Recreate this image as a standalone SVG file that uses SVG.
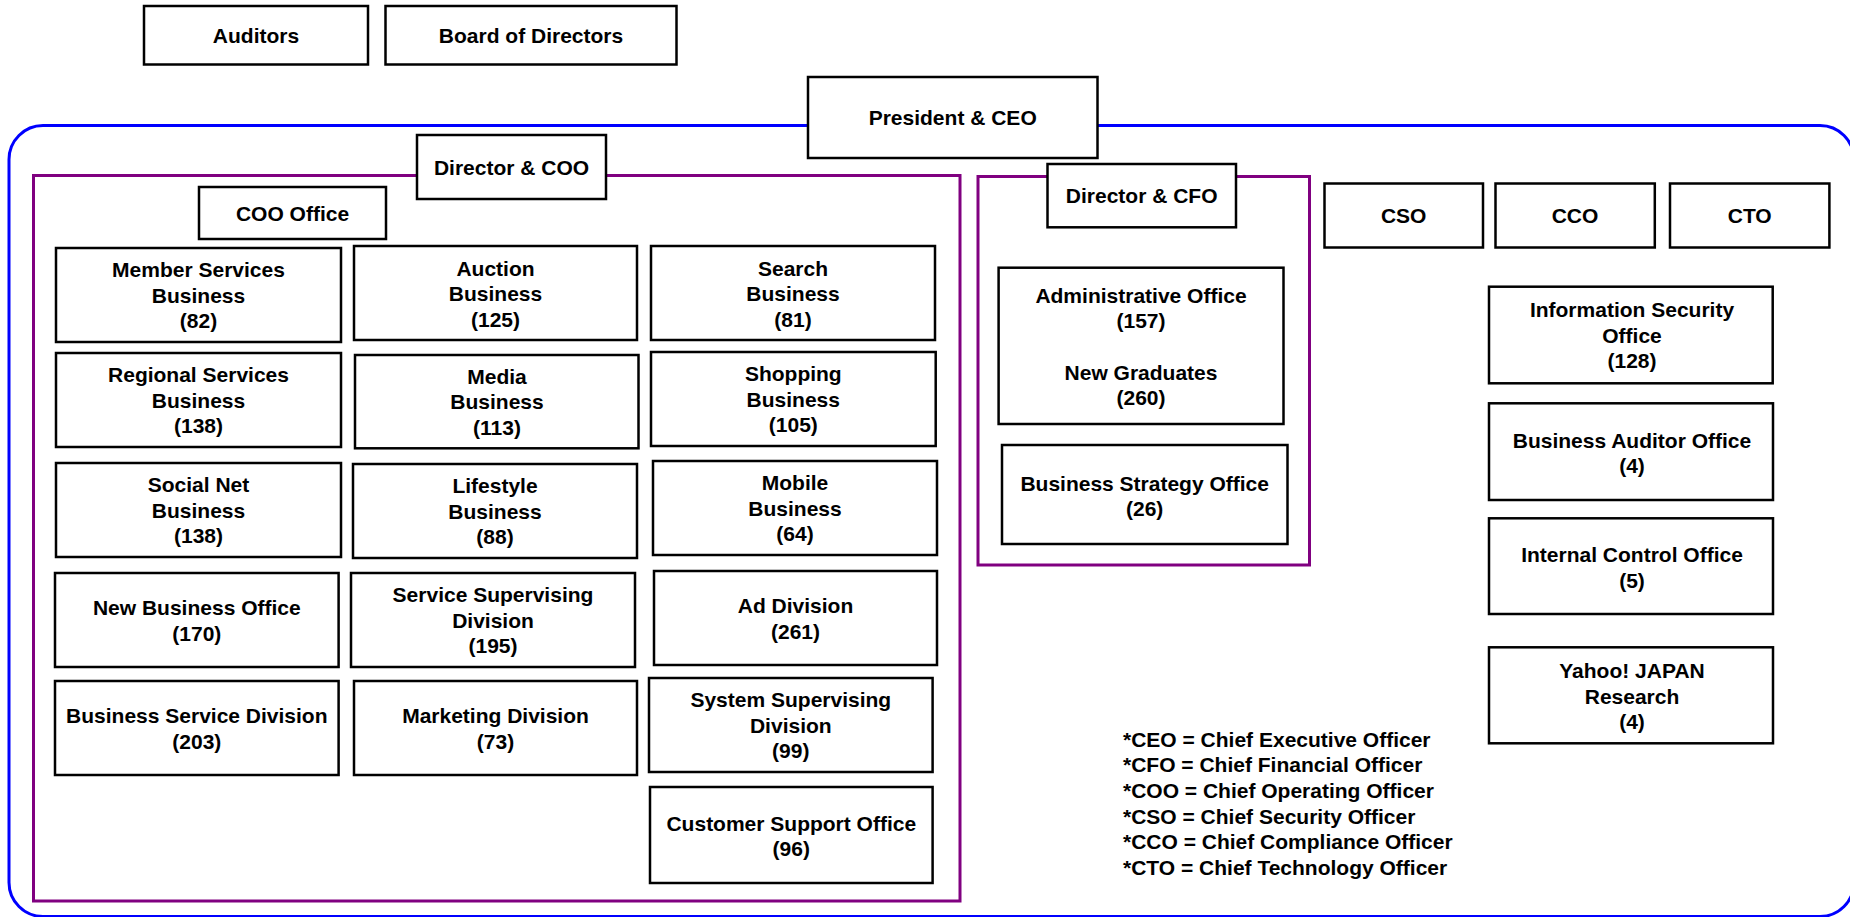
<svg xmlns="http://www.w3.org/2000/svg" width="1850" height="917" viewBox="0 0 1850 917">
<style>
.bg{fill:#ffffff}
.box{fill:#ffffff;stroke:#000000;stroke-width:2.5}
.t{font-family:"Liberation Sans",Arial,sans-serif;font-weight:bold;font-size:21px;fill:#000000;text-anchor:middle}
.lg{font-family:"Liberation Sans",Arial,sans-serif;font-weight:bold;font-size:21px;fill:#000000}
.blue{fill:none;stroke:#0000ff;stroke-width:3}
.purple{fill:none;stroke:#800080;stroke-width:3}
</style>
<rect class="bg" x="0" y="0" width="1850" height="917"/>
<g id="connectors">
  <rect class="blue" x="9" y="125.5" width="1845" height="791" rx="34" ry="34"/>
  <rect class="purple" x="33.5" y="175.5" width="926.5" height="725.5"/>
  <rect class="purple" x="978" y="176.5" width="331.5" height="388.5"/>
</g>
<g id="auditors"><rect class="box" x="144" y="6" width="224" height="58.5"/><text class="t" x="256" y="43">Auditors</text></g>
<g id="board"><rect class="box" x="385.5" y="6" width="291" height="58.5"/><text class="t" x="531" y="43">Board of Directors</text></g>
<g id="ceo"><rect class="box" x="808" y="77" width="289.5" height="81"/><text class="t" x="952.7" y="125">President &amp; CEO</text></g>
<g id="director-coo"><rect class="box" x="417" y="135" width="189" height="64"/><text class="t" x="511.5" y="174.5">Director &amp; COO</text></g>
<g id="coo-office"><rect class="box" x="199" y="187" width="187" height="52"/><text class="t" x="292.5" y="220.5">COO Office</text></g>
<g id="director-cfo"><rect class="box" x="1047.5" y="164" width="188.5" height="63.3"/><text class="t" x="1141.7" y="203">Director &amp; CFO</text></g>
<g id="cso"><rect class="box" x="1324.5" y="183.5" width="158.5" height="64"/><text class="t" x="1403.7" y="223">CSO</text></g>
<g id="cco"><rect class="box" x="1495.5" y="183.5" width="159.3" height="64"/><text class="t" x="1575" y="223">CCO</text></g>
<g id="cto"><rect class="box" x="1670" y="183.5" width="159.4" height="64"/><text class="t" x="1749.7" y="223">CTO</text></g>

<g id="member-services"><rect class="box" x="56" y="248" width="285" height="94"/><text class="t" x="198.5" y="277">Member Services<tspan x="198.5" dy="25.7">Business</tspan><tspan x="198.5" dy="25.7">(82)</tspan></text></g>
<g id="auction"><rect class="box" x="354" y="246" width="283" height="94"/><text class="t" x="495.5" y="275.5">Auction<tspan x="495.5" dy="25.7">Business</tspan><tspan x="495.5" dy="25.7">(125)</tspan></text></g>
<g id="search"><rect class="box" x="651" y="246" width="284" height="94"/><text class="t" x="793" y="275.5">Search<tspan x="793" dy="25.7">Business</tspan><tspan x="793" dy="25.7">(81)</tspan></text></g>

<g id="regional"><rect class="box" x="56" y="353" width="285" height="94"/><text class="t" x="198.5" y="382">Regional Services<tspan x="198.5" dy="25.7">Business</tspan><tspan x="198.5" dy="25.7">(138)</tspan></text></g>
<g id="media"><rect class="box" x="355" y="355" width="283.5" height="93.3"/><text class="t" x="497" y="383.5">Media<tspan x="497" dy="25.7">Business</tspan><tspan x="497" dy="25.7">(113)</tspan></text></g>
<g id="shopping"><rect class="box" x="651" y="352" width="284.7" height="94"/><text class="t" x="793.3" y="381">Shopping<tspan x="793.3" dy="25.7">Business</tspan><tspan x="793.3" dy="25.7">(105)</tspan></text></g>

<g id="social-net"><rect class="box" x="56" y="463" width="285" height="94"/><text class="t" x="198.5" y="492">Social Net<tspan x="198.5" dy="25.7">Business</tspan><tspan x="198.5" dy="25.7">(138)</tspan></text></g>
<g id="lifestyle"><rect class="box" x="353" y="464" width="284" height="94"/><text class="t" x="495" y="493">Lifestyle<tspan x="495" dy="25.7">Business</tspan><tspan x="495" dy="25.7">(88)</tspan></text></g>
<g id="mobile"><rect class="box" x="653" y="461" width="284" height="94"/><text class="t" x="795" y="490">Mobile<tspan x="795" dy="25.7">Business</tspan><tspan x="795" dy="25.7">(64)</tspan></text></g>

<g id="new-business"><rect class="box" x="55" y="573" width="283.6" height="94"/><text class="t" x="196.8" y="615">New Business Office<tspan x="196.8" dy="25.7">(170)</tspan></text></g>
<g id="service-supervising"><rect class="box" x="351" y="573" width="284" height="94"/><text class="t" x="493" y="602">Service Supervising<tspan x="493" dy="25.7">Division</tspan><tspan x="493" dy="25.7">(195)</tspan></text></g>
<g id="ad-division"><rect class="box" x="654" y="571" width="283" height="94"/><text class="t" x="795.5" y="613">Ad Division<tspan x="795.5" dy="25.7">(261)</tspan></text></g>

<g id="business-service"><rect class="box" x="55" y="681" width="283.6" height="94"/><text class="t" x="196.8" y="723">Business Service Division<tspan x="196.8" dy="25.7">(203)</tspan></text></g>
<g id="marketing"><rect class="box" x="354" y="681" width="283" height="94"/><text class="t" x="495.5" y="723">Marketing Division<tspan x="495.5" dy="25.7">(73)</tspan></text></g>
<g id="system-supervising"><rect class="box" x="649" y="678" width="283.6" height="94"/><text class="t" x="790.8" y="707">System Supervising<tspan x="790.8" dy="25.7">Division</tspan><tspan x="790.8" dy="25.7">(99)</tspan></text></g>
<g id="customer-support"><rect class="box" x="650" y="787" width="282.6" height="96"/><text class="t" x="791.3" y="830.5">Customer Support Office<tspan x="791.3" dy="25.7">(96)</tspan></text></g>

<g id="administrative"><rect class="box" x="998.6" y="267.7" width="284.9" height="156.3"/><text class="t" x="1141" y="302.5">Administrative Office<tspan x="1141" dy="25.7">(157)</tspan><tspan x="1141" dy="51.4">New Graduates</tspan><tspan x="1141" dy="25.7">(260)</tspan></text></g>
<g id="business-strategy"><rect class="box" x="1002" y="445" width="285.5" height="99"/><text class="t" x="1144.7" y="490.5">Business Strategy Office<tspan x="1144.7" dy="25.7">(26)</tspan></text></g>

<g id="info-security"><rect class="box" x="1489" y="286.7" width="283.7" height="96.6"/><text class="t" x="1632" y="317">Information Security<tspan x="1632" dy="25.7">Office</tspan><tspan x="1632" dy="25.7">(128)</tspan></text></g>
<g id="business-auditor"><rect class="box" x="1489" y="403.3" width="284" height="96.7"/><text class="t" x="1632" y="447.5">Business Auditor Office<tspan x="1632" dy="25.7">(4)</tspan></text></g>
<g id="internal-control"><rect class="box" x="1489" y="518.3" width="284" height="95.7"/><text class="t" x="1632" y="562">Internal Control Office<tspan x="1632" dy="25.7">(5)</tspan></text></g>
<g id="yahoo-research"><rect class="box" x="1489" y="647.3" width="284" height="96"/><text class="t" x="1632" y="678">Yahoo! JAPAN<tspan x="1632" dy="25.7">Research</tspan><tspan x="1632" dy="25.7">(4)</tspan></text></g>

<g id="legend">
  <text class="lg" x="1123" y="746.5">*CEO = Chief Executive Officer</text>
  <text class="lg" x="1123" y="772.2">*CFO = Chief Financial Officer</text>
  <text class="lg" x="1123" y="797.9">*COO = Chief Operating Officer</text>
  <text class="lg" x="1123" y="823.6">*CSO = Chief Security Officer</text>
  <text class="lg" x="1123" y="849.3">*CCO = Chief Compliance Officer</text>
  <text class="lg" x="1123" y="875">*CTO = Chief Technology Officer</text>
</g>
</svg>
